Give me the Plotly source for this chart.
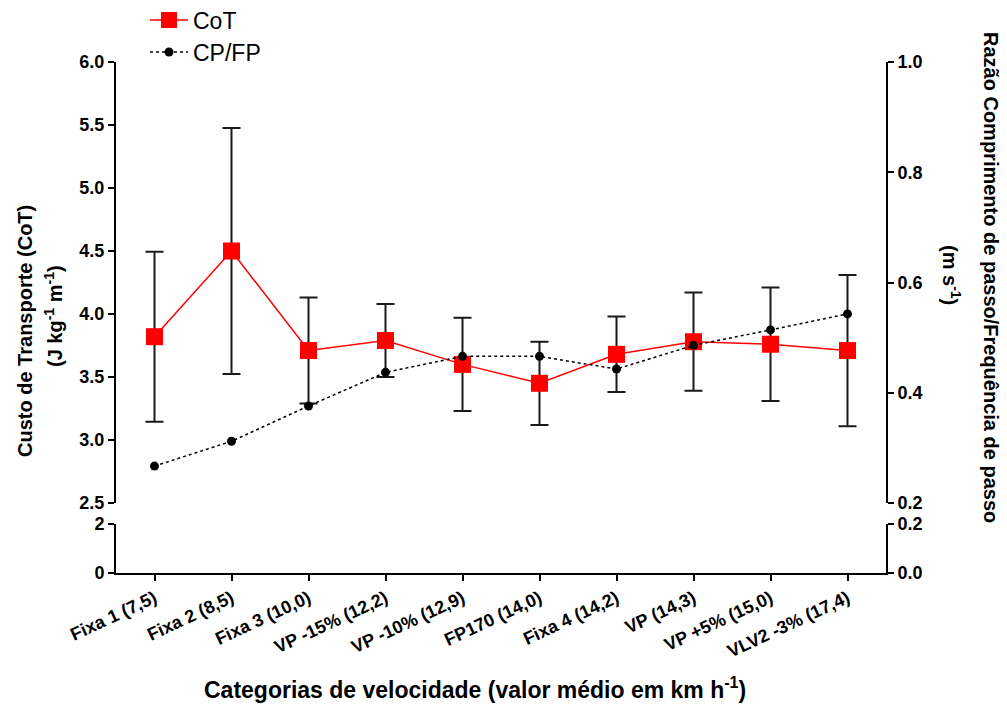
import plotly.graph_objects as go

categories = ["Fixa 1 (7,5)", "Fixa 2 (8,5)", "Fixa 3 (10,0)", "VP -15% (12,2)", "VP -10% (12,9)",
              "FP170 (14,0)", "Fixa 4 (14,2)", "VP (14,3)", "VP +5% (15,0)", "VLV2 -3% (17,4)"]
cot_mean = [3.82, 4.50, 3.71, 3.79, 3.60, 3.45, 3.68, 3.78, 3.76, 3.71]
cot_sd = [0.675, 0.976, 0.42, 0.29, 0.37, 0.33, 0.30, 0.39, 0.45, 0.60]
cpfp = [0.267, 0.312, 0.376, 0.437, 0.466, 0.466, 0.443, 0.486, 0.514, 0.543]

FONT = "Liberation Sans, Arial, sans-serif"
W, H = 1007, 704
L, R, T, B = 116, 121, 62, 131
PW, PH = W - L - R, H - T - B

def px_x(px):
    return (px - L) / PW

def px_y(py):
    return (H - B - py) / PH

fig = go.Figure()

fig.add_trace(go.Scatter(
    x=categories, y=cot_mean, name="CoT", mode="lines+markers",
    xaxis="x", yaxis="y",
    line=dict(color="#ff0000", width=1.5),
    marker=dict(symbol="square", size=17, color="#ff0000"),
    error_y=dict(type="data", array=cot_sd, visible=True, color="#1a1a1a", thickness=2, width=9),
    legend="legend", showlegend=True,
))
fig.add_trace(go.Scatter(
    x=categories, y=cpfp, name="CP/FP", mode="lines+markers",
    xaxis="x", yaxis="y2",
    line=dict(color="#000000", width=1.5, dash="dot"),
    marker=dict(symbol="circle", size=9, color="#000000"),
    legend="legend2", showlegend=True,
))
# empty traces so that the lower broken-axis segments are drawn
fig.add_trace(go.Scatter(x=[], y=[], xaxis="x", yaxis="y3", showlegend=False))
fig.add_trace(go.Scatter(x=[], y=[], xaxis="x", yaxis="y4", showlegend=False))

tickfont = dict(family=FONT, size=18, color="black", weight="bold")
axis_common = dict(showline=True, linewidth=2, linecolor="black", ticks="outside",
                   ticklen=6, tickwidth=2, tickcolor="black", showgrid=False, zeroline=False,
                   tickfont=tickfont)

upper_dom = [px_y(503), 1.0]
lower_dom = [0.0, px_y(524)]

xaxis_cfg = dict(axis_common)
xaxis_cfg.update(anchor="y3", domain=[0, 1], type="category", range=[-0.5, 9.5], tickangle=-25,
                 tickfont=dict(family=FONT, size=18, color="black", weight="bold"))

legend_font = dict(family=FONT, size=23, color="black")
fig.update_layout(
    width=W, height=H,
    margin=dict(l=L, r=R, t=T, b=B, autoexpand=False),
    paper_bgcolor="white", plot_bgcolor="white",
    font=dict(family=FONT, color="black"),
    showlegend=True,
    xaxis=xaxis_cfg,
    yaxis=dict(**axis_common, anchor="x", domain=upper_dom, range=[2.5, 6.0],
               tickmode="array", tickvals=[2.5, 3.0, 3.5, 4.0, 4.5, 5.0, 5.5, 6.0], tickformat=".1f"),
    yaxis2=dict(**axis_common, anchor="x", overlaying="y", side="right", range=[0.2, 1.0],
                tickmode="array", tickvals=[0.2, 0.4, 0.6, 0.8, 1.0], tickformat=".1f"),
    yaxis3=dict(**axis_common, anchor="x", domain=lower_dom, range=[0, 2],
                tickmode="array", tickvals=[0, 2], tickformat="d"),
    yaxis4=dict(**axis_common, anchor="x", overlaying="y3", side="right", range=[0, 0.2],
                tickmode="array", tickvals=[0, 0.2], tickformat=".1f"),
    legend=dict(x=px_x(145), y=px_y(20), xanchor="left", yanchor="middle", itemwidth=38,
                font=legend_font, bgcolor="rgba(0,0,0,0)"),
    legend2=dict(x=px_x(145), y=px_y(52), xanchor="left", yanchor="middle", itemwidth=38,
                 font=legend_font, bgcolor="rgba(0,0,0,0)"),
)

title_font = dict(family=FONT, size=20, color="black", weight="bold")
ann = [
    dict(text="Custo de Transporte (CoT)", x=px_x(25), y=px_y(331), textangle=-90),
    dict(text="(J kg<sup>-1</sup> m<sup>-1</sup>)", x=px_x(53), y=px_y(316), textangle=-90),
    dict(text="Razão Comprimento de passo/Frequência de passo", x=px_x(991), y=px_y(277), textangle=90),
    dict(text="(m s<sup>-1</sup>)", x=px_x(952), y=px_y(275), textangle=90),
    dict(text="Categorias de velocidade (valor médio em km h<sup>-1</sup>)", x=px_x(475), y=px_y(688),
         textangle=0, font=dict(family=FONT, size=23, color="black", weight="bold")),
]
for a in ann:
    a.setdefault("font", title_font)
    fig.add_annotation(xref="paper", yref="paper", showarrow=False,
                       xanchor="center", yanchor="middle", **a)

fig.write_html("out.html", include_plotlyjs=True, full_html=True,
               config={"displayModeBar": False},
               post_script="document.body.style.margin='0';document.body.style.overflow='hidden';")
